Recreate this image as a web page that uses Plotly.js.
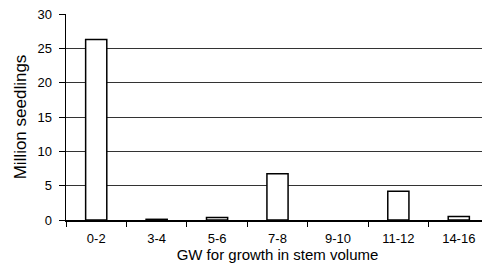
<!DOCTYPE html>
<html>
<head>
<meta charset="utf-8">
<script src="https://cdn.plot.ly/plotly-3.0.1.min.js"></script>
<style>
html,body{margin:0;padding:0;overflow:hidden;background:#fff;}
#chart{width:490px;height:265px;}
</style>
</head>
<body>
<div id="chart"></div>
<script>
const categories = ["0-2", "3-4", "5-6", "7-8", "9-10", "11-12", "14-16"];
const seedlings = [26.3, 0.1, 0.35, 6.75, 0, 4.2, 0.5];
const yTicks = [0, 5, 10, 15, 20, 25, 30];
const xTitle = "GW for growth in stem volume";
const yTitle = "Million seedlings";

const trace = {
  type: "bar",
  x: categories,
  y: seedlings,
  width: 0.35,
  marker: {color: "#ffffff", line: {color: "#000000", width: seedlings.map(v => v > 0 ? 1.5 : 0)}},
  hoverinfo: "none"
};

const font = {family: "Liberation Sans, Arial, sans-serif", color: "#000000", size: 13};

const layout = {
  width: 490, height: 265,
  margin: {l: 66, r: 1, t: 14, b: 45},
  paper_bgcolor: "#ffffff",
  plot_bgcolor: "#ffffff",
  showlegend: false,
  font: font,
  xaxis: {
    type: "category",
    range: [-0.5, 6.5],
    tickson: "boundaries",
    ticks: "outside",
    ticklen: 5,
    tickwidth: 1,
    tickcolor: "#000000",
    ticklabelstandoff: 6,
    showgrid: false,
    showline: true,
    linecolor: "#000000",
    linewidth: 1.5,
    zeroline: false,
    tickfont: {size: 13},
    title: {text: xTitle, font: {size: 15}, standoff: 1},
    fixedrange: true
  },
  yaxis: {
    range: [0, 30],
    tickmode: "array",
    tickvals: yTicks,
    ticks: "outside",
    ticklen: 6,
    tickwidth: 1,
    tickcolor: "#000000",
    ticklabelstandoff: 4,
    showgrid: true,
    gridcolor: "#333333",
    gridwidth: 1,
    showline: true,
    linecolor: "#000000",
    linewidth: 1.5,
    zeroline: false,
    tickfont: {size: 13},
    title: {text: yTitle, font: {size: 17}, standoff: 6},
    fixedrange: true
  }
};

Plotly.newPlot("chart", [trace], layout, {displayModeBar: false, staticPlot: true});
</script>
</body>
</html>
